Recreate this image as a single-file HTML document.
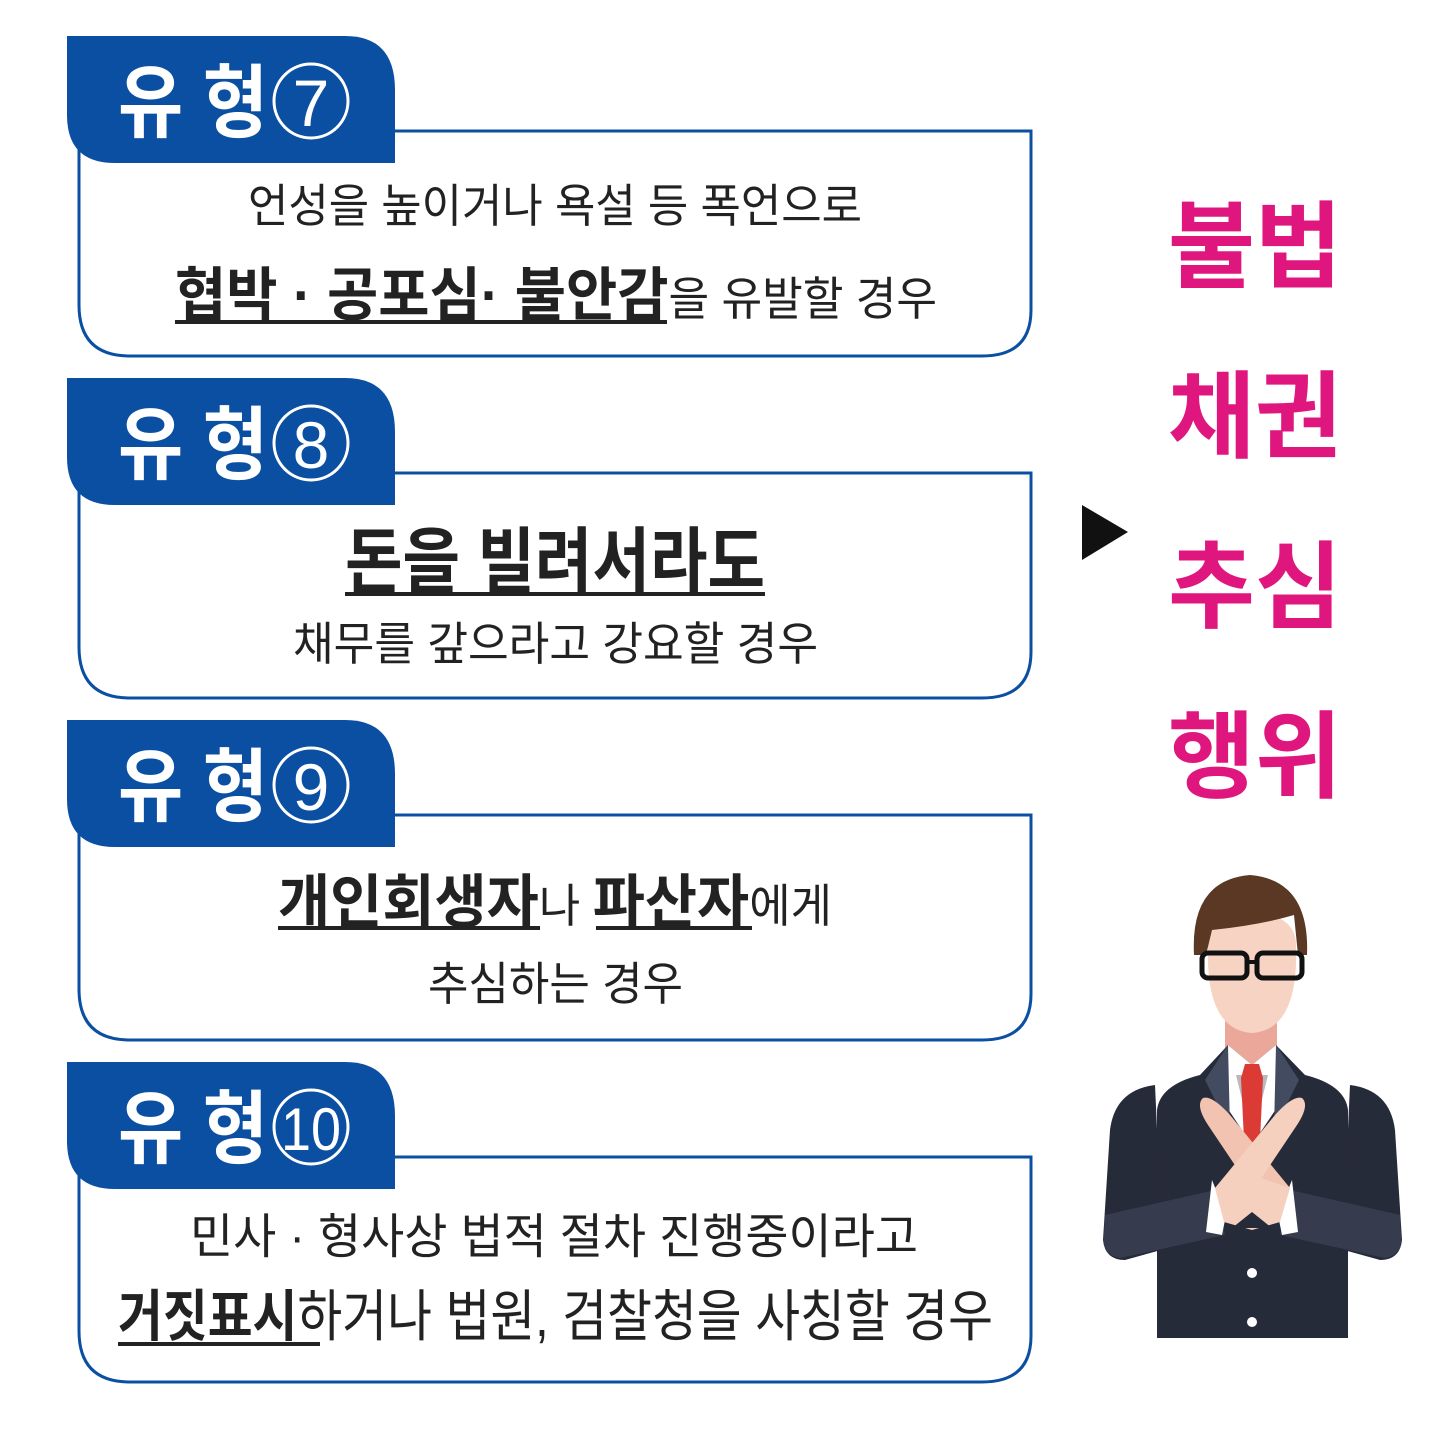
<!DOCTYPE html>
<html><head><meta charset="utf-8"><style>
html,body{margin:0;padding:0;background:#fff}
svg{display:block}
text{font-family:"Liberation Sans","Noto Sans CJK KR",sans-serif}
</style></head><body>
<svg width="1431" height="1431" viewBox="0 0 1431 1431" xmlns="http://www.w3.org/2000/svg">
<defs>
<g id="box">
  <path d="M79 120 V305 Q79 356 130 356 H982 Q1031 356 1031 310 V131 H390" fill="#fff" stroke="#0b4fa3" stroke-width="3"/>
  <path d="M67 36 H345 Q395 36 395 90 V163 H115 Q67 163 67 115 Z" fill="#0b4fa3"/>
  <text x="118" y="131" font-size="80" font-weight="bold" fill="#fff" textLength="150" lengthAdjust="spacingAndGlyphs">유 형</text>
  <circle cx="311" cy="101" r="37" fill="none" stroke="#fff" stroke-width="3"/>
</g>
</defs>

<use href="#box"/>
<text x="311" y="126" font-size="66" fill="#fff" text-anchor="middle">7</text>
<text x="248" y="222" font-size="46" fill="#222" textLength="614" lengthAdjust="spacingAndGlyphs">언성을 높이거나 욕설 등 폭언으로</text>
<text x="175" y="315" font-size="58" fill="#222" textLength="762" lengthAdjust="spacingAndGlyphs"><tspan font-weight="bold">협박 · 공포심· 불안감</tspan><tspan font-size="46">을 유발할 경우</tspan></text>
<rect x="175" y="320" width="492" height="4" fill="#222"/>

<use href="#box" y="342"/>
<text x="311" y="468" font-size="66" fill="#fff" text-anchor="middle">8</text>
<text x="345" y="587" font-size="72" font-weight="bold" fill="#222" textLength="420" lengthAdjust="spacingAndGlyphs">돈을 빌려서라도</text>
<rect x="345" y="592" width="420" height="4" fill="#222"/>
<text x="293" y="660" font-size="46" fill="#222" textLength="525" lengthAdjust="spacingAndGlyphs">채무를 갚으라고 강요할 경우</text>

<use href="#box" y="684"/>
<text x="311" y="810" font-size="66" fill="#fff" text-anchor="middle">9</text>
<text x="278" y="922" font-size="58" fill="#222" textLength="554" lengthAdjust="spacingAndGlyphs"><tspan font-weight="bold">개인회생자</tspan><tspan font-size="46">나 </tspan><tspan font-weight="bold">파산자</tspan><tspan font-size="46">에게</tspan></text>
<rect x="278" y="926" width="262" height="4" fill="#222"/>
<rect x="596" y="926" width="156" height="4" fill="#222"/>
<text x="428" y="1000" font-size="46" fill="#222" textLength="255" lengthAdjust="spacingAndGlyphs">추심하는 경우</text>

<use href="#box" y="1026"/>
<text x="311" y="1150" font-size="60" fill="#fff" text-anchor="middle" textLength="60" lengthAdjust="spacingAndGlyphs">10</text>
<text x="190" y="1253" font-size="48" fill="#222" textLength="728" lengthAdjust="spacingAndGlyphs">민사 · 형사상 법적 절차 진행중이라고</text>
<text x="118" y="1336" font-size="56" fill="#222" textLength="875" lengthAdjust="spacingAndGlyphs"><tspan font-weight="bold">거짓표시</tspan><tspan>하거나 법원, 검찰청을 사칭할 경우</tspan></text>
<rect x="118" y="1342" width="202" height="4" fill="#222"/>

<polygon points="1082,505 1128,532 1082,560" fill="#111"/>
<g font-size="95" font-weight="bold" fill="#e0167f">
<text x="1168" y="280" textLength="174" lengthAdjust="spacingAndGlyphs">불법</text>
<text x="1168" y="450" textLength="174" lengthAdjust="spacingAndGlyphs">채권</text>
<text x="1168" y="620" textLength="174" lengthAdjust="spacingAndGlyphs">추심</text>
<text x="1168" y="790" textLength="174" lengthAdjust="spacingAndGlyphs">행위</text>
</g>

<!-- man -->
<g>
  <rect x="1225" y="1010" width="52" height="60" fill="#eba79a"/>
  <path d="M1157 1338 V1110 Q1160 1085 1200 1075 L1228 1045 L1252 1065 L1276 1045 L1305 1075 Q1345 1085 1348 1110 V1338 Z" fill="#262b3a"/>
  <path d="M1228 1045 L1252 1065 L1276 1045 L1282 1100 L1252 1145 L1222 1100 Z" fill="#fff"/>
  <path d="M1236 1075 L1252 1140 L1268 1075 Z" fill="#b9b9bd"/>
  <path d="M1245 1064 H1259 L1263 1078 L1260 1140 L1252 1148 L1244 1140 L1241 1078 Z" fill="#dc3a35"/>
  <path d="M1228 1045 L1205 1080 L1230 1130 Z M1276 1045 L1299 1080 L1274 1130 Z" fill="#424b60"/>
  <path d="M1155 1085 Q1115 1090 1110 1130 L1103 1240 Q1105 1260 1125 1260 L1215 1235 L1210 1185 L1160 1195 Z" fill="#262b3a"/>
  <path d="M1350 1085 Q1390 1090 1395 1130 L1402 1240 Q1400 1260 1380 1260 L1290 1235 L1295 1185 L1345 1195 Z" fill="#262b3a"/>
  <path d="M1105 1215 L1215 1190 L1225 1235 L1120 1258 Q1102 1255 1104 1235 Z" fill="#363c4e"/>
  <path d="M1400 1215 L1290 1190 L1280 1235 L1385 1258 Q1403 1255 1401 1235 Z" fill="#363c4e"/>
  <path d="M1212 1180 L1226 1215 L1222 1235 L1206 1232 Z" fill="#fff"/>
  <path d="M1292 1180 L1278 1215 L1282 1235 L1298 1232 Z" fill="#fff"/>
  <path d="M1203 1098 Q1195 1105 1208 1125 L1265 1210 L1290 1188 L1230 1115 Q1212 1095 1203 1098 Z" fill="#f2c3b0"/>
  <path d="M1302 1098 Q1310 1105 1297 1125 L1240 1210 L1215 1188 L1275 1115 Q1293 1095 1302 1098 Z" fill="#f6d0be"/>
  <path d="M1215 1188 L1252 1175 L1290 1188 L1280 1222 L1252 1230 L1224 1222 Z" fill="#f6d0be"/>
  <path d="M1232 1228 L1252 1212 L1272 1228 Z" fill="#262b3a"/>
  <circle cx="1252" cy="1273" r="5" fill="#fff"/>
  <circle cx="1252" cy="1322" r="5" fill="#fff"/>
  <path d="M1208 945 Q1205 1030 1252 1033 Q1299 1030 1296 945 Q1296 915 1252 912 Q1208 915 1208 945 Z" fill="#f6d3c3"/>
  <path d="M1194 955 Q1190 880 1250 875 Q1310 880 1307 955 L1298 955 L1294 915 Q1260 925 1212 930 L1206 955 Z" fill="#5a3823"/>
  <rect x="1202" y="953" width="45" height="25" rx="6" fill="none" stroke="#111" stroke-width="5"/>
  <rect x="1257" y="953" width="45" height="25" rx="6" fill="none" stroke="#111" stroke-width="5"/>
  <rect x="1246" y="960" width="12" height="4" fill="#111"/>
</g>
</svg>
</body></html>
